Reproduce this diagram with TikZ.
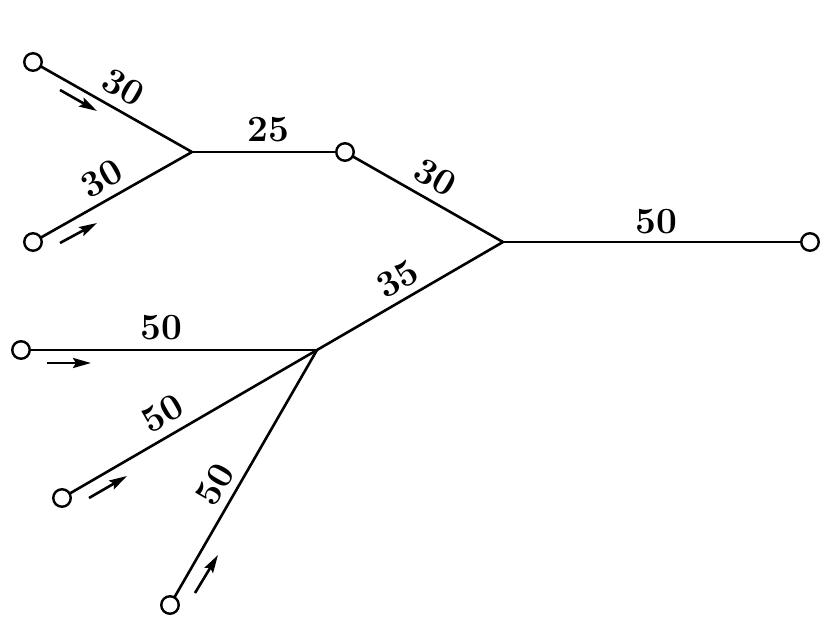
\documentclass[tikz,border=0pt]{standalone}
\usepackage{fontspec}
\usetikzlibrary{arrows.meta,backgrounds}
\begin{document}
\begin{tikzpicture}[x=1pt,y=-1pt,
  pipe/.style={line width=2.6pt},
  port/.style={circle,draw,line width=2.4pt,fill=white,minimum size=17.5pt,inner sep=0pt},
  flow/.style={line width=2.6pt,-{Stealth[length=18pt,width=10pt,inset=3pt]}},
  lab/.style={sloped,anchor=south,inner xsep=0pt,inner ysep=10pt,outer sep=0pt,
              font=\fontsize{37}{42}\selectfont\bfseries}]
\useasboundingbox (0,0) rectangle (830,626);
% ports
\node[port] (A) at (33,62) {};
\node[port] (B) at (33,242) {};
\node[port] (C) at (345,152) {};
\node[port] (D) at (810,242) {};
\node[port] (E) at (21,350) {};
\node[port] (F) at (62,498) {};
\node[port] (G) at (170,605) {};
% junctions
\coordinate (J1) at (192,152);
\coordinate (J2) at (503,242);
\coordinate (J3) at (317,350);
% pipes
\begin{pgfonlayer}{background}
\draw[pipe] (A.center) -- node[lab,pos=0.50]{30} (J1);
\draw[pipe] (B.center) -- node[lab,pos=0.50,inner ysep=9pt]{30} (J1);
\draw[pipe] (J1) -- node[lab,pos=0.50]{25} (C.center);
\draw[pipe] (C.center) -- node[lab,pos=0.50]{30} (J2);
\draw[pipe] (J2) -- node[lab,pos=0.50,inner ysep=8.5pt]{50} (D.center);
\draw[pipe] (J3) -- node[lab,pos=0.49,inner ysep=8.5pt]{35} (J2);
\draw[pipe] (E.center) -- node[lab,pos=0.475]{50} (J3);
\draw[pipe] (F.center) -- node[lab,pos=0.44]{50} (J3);
\draw[pipe] (G.center) -- node[lab,pos=0.43,inner ysep=9pt]{50} (J3);
\end{pgfonlayer}
% flow arrows
\coordinate (a1s) at (60,90);   \coordinate (a1e) at (97,111);
\coordinate (a2s) at (60,243);  \coordinate (a2e) at (97,223);
\coordinate (a3s) at (47,363);  \coordinate (a3e) at (91,363);
\coordinate (a4s) at (89,498);  \coordinate (a4e) at (127,476);
\coordinate (a5s) at (195,593); \coordinate (a5e) at (218,555);
\draw[flow] (a1s) -- (a1e);
\draw[flow] (a2s) -- (a2e);
\draw[flow] (a3s) -- (a3e);
\draw[flow] (a4s) -- (a4e);
\draw[flow] (a5s) -- (a5e);
\end{tikzpicture}
\end{document}
